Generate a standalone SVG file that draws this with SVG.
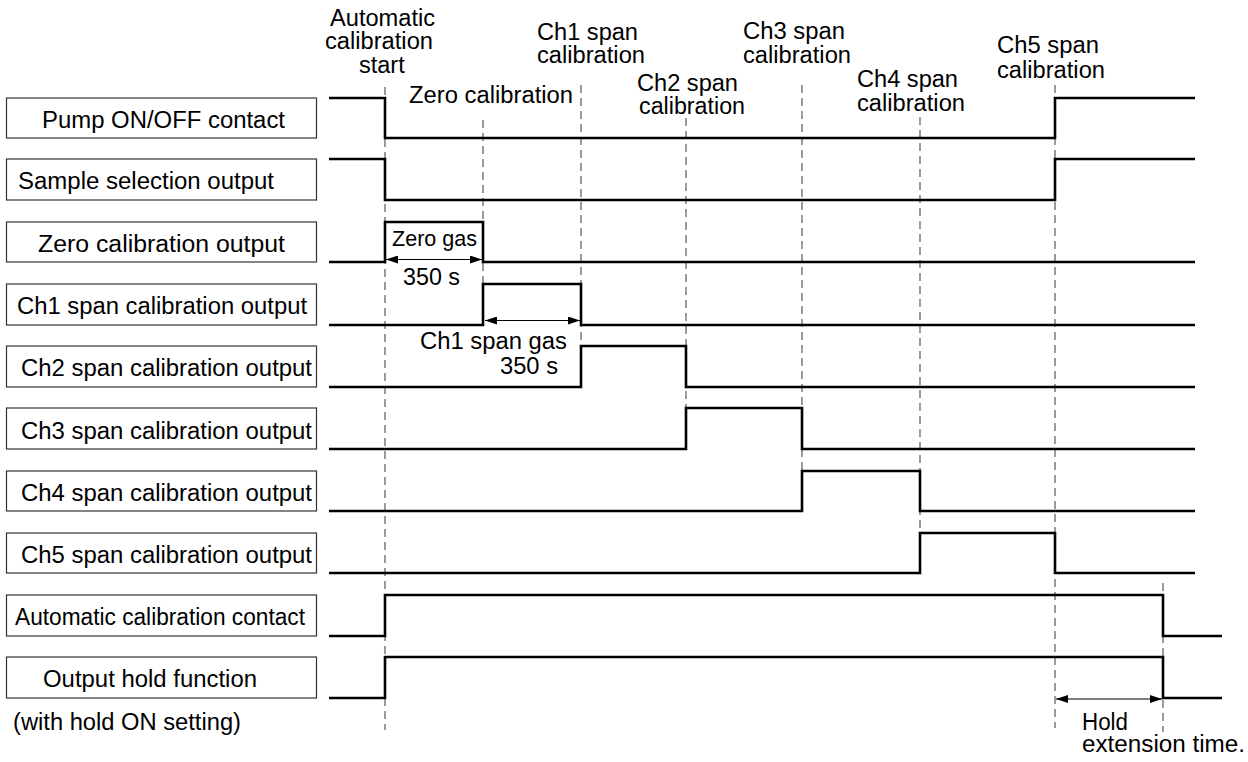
<svg xmlns="http://www.w3.org/2000/svg" width="1248" height="762" viewBox="0 0 1248 762">
<defs>
<style>
text{font-family:"Liberation Sans",Arial,Helvetica,sans-serif;font-size:23.5px;fill:#000}
.box{fill:#fff;stroke:#333;stroke-width:1.2}
.sig{fill:none;stroke:#000;stroke-width:2.6;stroke-linejoin:miter}
.guide{stroke:#666;stroke-width:1.3;stroke-dasharray:8 5;fill:none}
.dim{stroke:#000;stroke-width:1.2;fill:none;marker-start:url(#ah);marker-end:url(#ah)}
.small{font-size:21.5px}
</style>
<marker id="ah" viewBox="0 0 12 8" refX="12" refY="4" markerWidth="12" markerHeight="8" markerUnits="userSpaceOnUse" orient="auto-start-reverse">
<path d="M0,0 L12,4 L0,8 Z" fill="#000"/>
</marker>
</defs>
<rect width="1248" height="762" fill="#fff"/>

<g id="nodes">
<g id="pump"><rect class="box" x="6.5" y="98" width="310" height="40"/><text x="42" y="128" textLength="243" lengthAdjust="spacingAndGlyphs">Pump ON/OFF contact</text></g>
<g id="sample"><rect class="box" x="6.5" y="159" width="310" height="41"/><text x="18" y="189" textLength="256" lengthAdjust="spacingAndGlyphs">Sample selection output</text></g>
<g id="zero"><rect class="box" x="6.5" y="222" width="310" height="40"/><text x="38" y="252" textLength="247" lengthAdjust="spacingAndGlyphs">Zero calibration output</text></g>
<g id="ch1"><rect class="box" x="6.5" y="284" width="310" height="41"/><text x="17" y="314" textLength="290" lengthAdjust="spacingAndGlyphs">Ch1 span calibration output</text></g>
<g id="ch2"><rect class="box" x="6.5" y="346" width="310" height="41"/><text x="21" y="376" textLength="291" lengthAdjust="spacingAndGlyphs">Ch2 span calibration output</text></g>
<g id="ch3"><rect class="box" x="6.5" y="408" width="310" height="41"/><text x="21" y="439" textLength="291" lengthAdjust="spacingAndGlyphs">Ch3 span calibration output</text></g>
<g id="ch4"><rect class="box" x="6.5" y="471" width="310" height="40"/><text x="21" y="501" textLength="291" lengthAdjust="spacingAndGlyphs">Ch4 span calibration output</text></g>
<g id="ch5"><rect class="box" x="6.5" y="533" width="310" height="40"/><text x="21" y="563" textLength="291" lengthAdjust="spacingAndGlyphs">Ch5 span calibration output</text></g>
<g id="autocal"><rect class="box" x="6.5" y="595" width="310" height="41"/><text x="15" y="625" textLength="290" lengthAdjust="spacingAndGlyphs">Automatic calibration contact</text></g>
<g id="hold"><rect class="box" x="6.5" y="657" width="310" height="41"/><text x="43" y="687" textLength="214" lengthAdjust="spacingAndGlyphs">Output hold function</text><text x="13" y="730" textLength="228" lengthAdjust="spacingAndGlyphs">(with hold ON setting)</text></g>
</g>

<g id="guides">
<line class="guide" x1="385" y1="87" x2="385" y2="730"/>
<line class="guide" x1="483" y1="120" x2="483" y2="284"/>
<line class="guide" x1="581" y1="85" x2="581" y2="346"/>
<line class="guide" x1="686" y1="118" x2="686" y2="408"/>
<line class="guide" x1="802" y1="85" x2="802" y2="471"/>
<line class="guide" x1="920" y1="117" x2="920" y2="533"/>
<line class="guide" x1="1055" y1="85" x2="1055" y2="728"/>
<line class="guide" x1="1163" y1="583" x2="1163" y2="732"/>
</g>

<g id="connectors">
<path class="sig" d="M329,98 H385 V138 H1055 V98 H1195"/>
<path class="sig" d="M329,159 H385 V200 H1055 V159 H1195"/>
<path class="sig" d="M329,262 H385 V222 H483 V262 H1195"/>
<path class="sig" d="M329,325 H483 V284 H581 V325 H1195"/>
<path class="sig" d="M329,387 H581 V346 H686 V387 H1195"/>
<path class="sig" d="M329,449 H686 V408 H802 V449 H1195"/>
<path class="sig" d="M329,511 H802 V471 H920 V511 H1195"/>
<path class="sig" d="M329,573 H920 V533 H1055 V573 H1195"/>
<path class="sig" d="M329,636 H385 V595 H1163 V636 H1222"/>
<path class="sig" d="M329,698 H385 V657 H1163 V698 H1222"/>
<line class="dim" x1="386" y1="259.5" x2="482" y2="259.5"/>
<line class="dim" x1="485" y1="320.5" x2="580" y2="320.5"/>
<line class="dim" x1="1056" y1="699" x2="1162" y2="699"/>
</g>

<g id="labels">
<text x="330" y="26" textLength="105" lengthAdjust="spacingAndGlyphs">Automatic</text>
<text x="325" y="49" textLength="108" lengthAdjust="spacingAndGlyphs">calibration</text>
<text x="359" y="73">start</text>
<text x="409" y="103" textLength="164" lengthAdjust="spacingAndGlyphs">Zero calibration</text>
<text x="537" y="40" textLength="101" lengthAdjust="spacingAndGlyphs">Ch1 span</text>
<text x="537" y="63" textLength="108" lengthAdjust="spacingAndGlyphs">calibration</text>
<text x="637" y="91" textLength="101" lengthAdjust="spacingAndGlyphs">Ch2 span</text>
<text x="639" y="114" textLength="106" lengthAdjust="spacingAndGlyphs">calibration</text>
<text x="743" y="39" textLength="102" lengthAdjust="spacingAndGlyphs">Ch3 span</text>
<text x="743" y="63" textLength="108" lengthAdjust="spacingAndGlyphs">calibration</text>
<text x="857" y="87" textLength="101" lengthAdjust="spacingAndGlyphs">Ch4 span</text>
<text x="857" y="111" textLength="108" lengthAdjust="spacingAndGlyphs">calibration</text>
<text x="997" y="53" textLength="102" lengthAdjust="spacingAndGlyphs">Ch5 span</text>
<text x="997" y="78" textLength="108" lengthAdjust="spacingAndGlyphs">calibration</text>
<text class="small" x="392" y="246" textLength="85" lengthAdjust="spacingAndGlyphs">Zero gas</text>
<text x="403" y="285" textLength="57" lengthAdjust="spacingAndGlyphs">350 s</text>
<text x="420" y="349" textLength="147" lengthAdjust="spacingAndGlyphs">Ch1 span gas</text>
<text x="500" y="374" textLength="58" lengthAdjust="spacingAndGlyphs">350 s</text>
<text x="1082" y="730" textLength="46" lengthAdjust="spacingAndGlyphs">Hold</text>
<text x="1082" y="752" textLength="163" lengthAdjust="spacingAndGlyphs">extension time.</text>
</g>
</svg>
